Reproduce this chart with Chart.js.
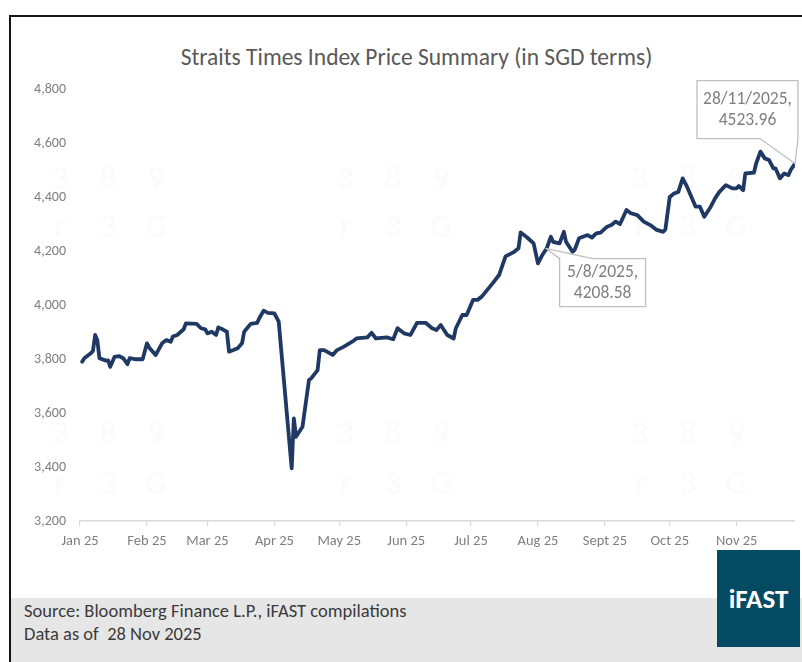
<!DOCTYPE html>
<html>
<head>
<meta charset="utf-8">
<script src="https://cdn.jsdelivr.net/npm/chart.js@4.4.1/dist/chart.umd.min.js"></script>
<style>
  html, body { margin: 0; padding: 0; background: #fff; }
  body { width: 802px; height: 662px; position: relative; overflow: hidden; font-family: Carlito, Lato, sans-serif; }
  #frame { position: absolute; left: 9px; top: 15px; width: 800px; height: 660px; border-left: 2px solid #151515; border-top: 2px solid #151515; }
  #footer { position: absolute; left: 11px; top: 598px; width: 791px; height: 64px; background: #e7e6e6; }
  #src { position: absolute; left: 24px; top: 599px; font-size: 18.5px; line-height: 23px; color: #3a3a3a; white-space: pre; }
  #title { position: absolute; left: 0; top: 42px; width: 833px; text-align: center; font-size: 23.5px; line-height: 30px; color: #595959; white-space: nowrap; }
  #logo { position: absolute; left: 717px; top: 550px; width: 83px; height: 97px; background: #054a63; color: #fff; font-weight: bold; font-size: 27px; text-align: center; line-height: 97px; }
  #c { position: absolute; left: 0; top: 0; }
</style>
</head>
<body>
<div id="frame"></div>
<div id="footer"></div>
<div id="src">Source: Bloomberg Finance L.P., iFAST compilations
Data as of  28 Nov 2025</div>
<div id="title">Straits Times Index Price Summary (in SGD terms)</div>
<canvas id="c" width="802" height="662"></canvas>
<div id="logo">iFAST</div>
<script>
// Days counted from 1 Jan 2025 (0 = 1 Jan)
const days = [1,2,5,6,7,8,9,12,13,14,16,18,20,22,23,26,29,31,32,35,38,40,42,43,45,48,49,54,56,58,59,61,63,64,66,68,69,71,73,75,76,79,82,83,85,87,90,92,98,99,100,103,106,107,110,111,113,117,119,122,126,128,133,135,137,142,145,147,150,153,156,160,163,165,167,170,173,174,177,179,182,184,186,191,194,197,201,203,204,207,210,212,214,216,218,219,222,224,225,228,229,231,235,237,239,241,244,246,248,250,253,255,258,261,264,267,270,271,273,275,277,279,281,285,287,289,292,294,296,299,302,304,305,307,308,312,313,315,317,319,321,322,324,326,328,329,331];
const closes = [3790,3803,3821,3830,3889,3870,3803,3794,3795,3771,3808,3811,3803,3781,3803,3799,3799,3858,3843,3815,3858,3870,3864,3883,3889,3910,3932,3930,3914,3910,3895,3901,3889,3917,3910,3901,3827,3833,3840,3858,3901,3930,3934,3951,3979,3971,3969,3938,3395,3580,3512,3549,3722,3728,3759,3833,3833,3815,3833,3845,3864,3876,3880,3897,3876,3880,3873,3914,3895,3889,3934,3934,3914,3907,3926,3889,3876,3914,3963,3963,4019,4019,4031,4080,4111,4180,4197,4210,4269,4250,4228,4154,4185,4208.58,4253,4234,4228,4271,4234,4197,4204,4247,4259,4250,4265,4268,4290,4296,4309,4300,4352,4340,4333,4309,4296,4278,4271,4280,4400,4413,4419,4469,4438,4364,4364,4327,4364,4395,4419,4444,4432,4432,4441,4425,4487,4490,4524,4568,4543,4537,4506,4506,4469,4487,4481,4500,4523.96];
const monthStarts = [0,31,59,90,120,151,181,212,243,273,304];
const monthLabels = ['Jan 25','Feb 25','Mar 25','Apr 25','May 25','Jun 25','Jul 25','Aug 25','Sept 25','Oct 25','Nov 25'];
const yTicks = [3200,3400,3600,3800,4000,4200,4400,4600,4800];
const calloutDays = [216, 331];
const calloutValues = [4208.58, 4523.96];
const calloutLabels = [['5/8/2025,','4208.58'], ['28/11/2025,','4523.96']];

const FONT = 'Carlito, Lato, sans-serif';

const watermark = {
  id: 'watermark',
  beforeDatasetsDraw(chart) {
    const ctx = chart.ctx;
    ctx.save();
    ctx.fillStyle = 'rgba(0,0,0,0.015)';
    ctx.font = 'bold 34px ' + FONT;
    ctx.textAlign = 'center';
    ctx.textBaseline = 'middle';
    const groups = [60, 345, 640];
    const rows = [[180, ['3','8','9']], [228, ['r','3','G']], [435, ['3','8','9']], [485, ['r','3','G']]];
    groups.forEach(gx => rows.forEach(([ry, chars]) => chars.forEach((ch, k) => ctx.fillText(ch, gx + k * 48, ry))));
    ctx.restore();
  }
};

const callouts = {
  id: 'callouts',
  afterDatasetsDraw(chart) {
    const ctx = chart.ctx, xs = chart.scales.x, ys = chart.scales.y;
    ctx.save();
    calloutDays.forEach((d, i) => {
      const px = xs.getPixelForValue(d), py = ys.getPixelForValue(calloutValues[i]);
      let L, T, R, B, pts;
      if (i === 0) {
        L = px + 13; T = py + 10; R = L + 86; B = T + 48;
        pts = [[px, py], [L + 33, T], [R, T], [R, B], [L, B], [L, T]];
      } else {
        R = px + 3; B = py - 25; L = R - 101; T = B - 58;
        pts = [[L, T], [R, T], [R, B], [px, py], [R - 38, B], [L, B]];
      }
      ctx.beginPath();
      pts.forEach((p, k) => k ? ctx.lineTo(p[0], p[1]) : ctx.moveTo(p[0], p[1]));
      ctx.closePath();
      ctx.fillStyle = '#ffffff';
      ctx.fill();
      ctx.strokeStyle = '#bfbfbf';
      ctx.lineWidth = 1.3;
      ctx.stroke();
      ctx.fillStyle = '#7f7f7f';
      ctx.font = '17.5px ' + FONT;
      ctx.textAlign = 'center';
      ctx.textBaseline = 'middle';
      const cx = (L + R) / 2, cy = (T + B) / 2;
      ctx.fillText(calloutLabels[i][0], cx, cy - 10);
      ctx.fillText(calloutLabels[i][1], cx, cy + 11);
    });
    ctx.restore();
  }
};

new Chart(document.getElementById('c'), {
  type: 'line',
  data: {
    datasets: [{
      label: 'STI',
      data: days.map((d, i) => ({ x: d, y: closes[i] })),
      borderColor: '#1f3864',
      borderWidth: 3.8,
      pointRadius: 0,
      tension: 0,
      borderJoinStyle: 'round',
      borderCapStyle: 'round',
      fill: false
    }]
  },
  options: {
    responsive: false,
    animation: false,
    events: [],
    layout: { padding: { top: 89, right: 7, bottom: 111, left: 0 } },
    plugins: { legend: { display: false }, tooltip: { enabled: false }, title: { display: false } },
    scales: {
      x: {
        type: 'linear',
        min: 0,
        max: 331,
        afterBuildTicks: (s) => { s.ticks = monthStarts.map(v => ({ value: v })); },
        afterFit: (s) => { s.height = 30; },
        ticks: {
          autoSkip: false, maxRotation: 0, padding: 7,
          color: '#7f7f7f', font: { family: FONT, size: 14.5 },
          callback: (v, idx) => monthLabels[idx]
        },
        grid: { display: true, drawOnChartArea: false, drawTicks: true, tickLength: 5, color: '#d9d9d9', lineWidth: 1.2 },
        border: { display: true, color: '#d9d9d9', width: 1.5 }
      },
      y: {
        type: 'linear',
        min: 3200,
        max: 4800,
        afterBuildTicks: (s) => { s.ticks = yTicks.map(v => ({ value: v })); },
        afterFit: (s) => { s.width = 80; },
        ticks: {
          padding: 14, color: '#7f7f7f', font: { family: FONT, size: 14 },
          callback: (v) => v.toLocaleString('en-US')
        },
        grid: { display: false, drawTicks: false },
        border: { display: false }
      }
    }
  },
  plugins: [watermark, callouts]
});
</script>
</body>
</html>
